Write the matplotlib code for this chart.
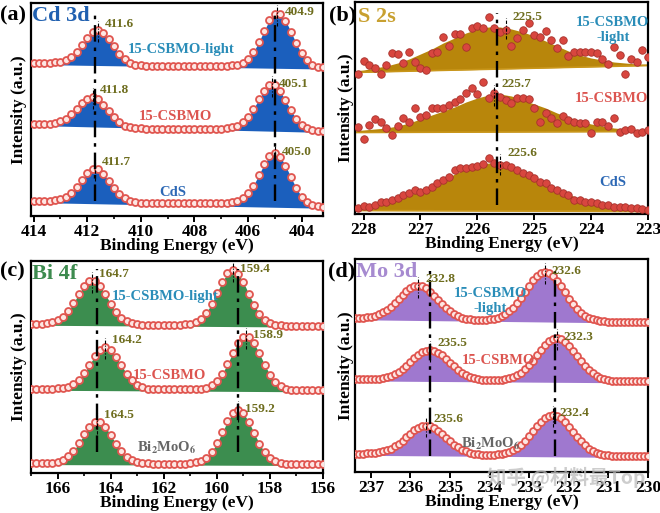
import numpy as np
import matplotlib

matplotlib.use("Agg")
import matplotlib.pyplot as plt
from matplotlib.ticker import MultipleLocator, FormatStrFormatter

plt.rcParams["font.family"] = ["Liberation Serif", "DejaVu Serif"]
plt.rcParams["font.weight"] = "bold"
plt.rcParams["mathtext.fontset"] = "stix"
plt.rcParams["axes.linewidth"] = 1.6

# ---------------- (a) Cd 3d : 414.0 -> 403.2 eV, 0.2 eV step
CD_ENERGY = np.linspace(414.0, 403.2, 55)
CD_CDS = [6, 6, 6.1, 6.3, 6.8, 8.0, 10.4, 14.5, 20.4, 27.3, 33.8, 38.0, 37.8, 33.2, 26.5,
          19.2, 13.0, 8.6, 6.0, 4.8, 4.3, 4.1,
          4, 4, 4, 4, 4, 4, 4, 4, 4, 4, 4, 4, 4, 4,
          4.3, 4.8, 6.1, 8.9, 13.8, 21.5, 31.8, 42.7, 51.0, 54.0, 50.4, 41.3, 29.8, 18.9,
          10.4, 4.9, 2.1, 0.8, 0.3]
CD_CSBMO = [7, 7, 7.2, 7.4, 8.2, 9.7, 12.2, 16.5, 22.0, 27.8, 32.3, 33.8, 31.6, 26.3, 19.7,
            13.5, 8.5, 5.2, 3.7, 2.9, 2.6,
            2.5, 2.5, 2.5, 2.5, 2.5, 2.5, 2.5, 2.5, 2.5, 2.5, 2.5, 2.5, 2.5, 2.5, 2.5,
            2.9, 3.6, 5.3, 8.5, 14.0, 22.0, 31.5, 40.3, 45.7, 45.5, 39.8, 30.6, 20.7, 12.3,
            6.4, 2.8, 1.1, 0.4, 0.1]
CD_LIGHT = [5, 5, 5, 5.2, 5.5, 6.4, 8.2, 11.4, 16.4, 23.1, 30.1, 35.7, 37.5, 35.2, 29.1,
            21.6, 14.4, 8.9, 5.2, 3.4, 2.5, 2.2,
            2, 2, 2, 2, 2, 2, 2, 2, 2, 2, 2, 2, 2, 2,
            2.2, 2.5, 3.4, 5.3, 9.3, 16.0, 25.7, 37.2, 47.9, 54.2, 54.0, 47.4, 36.4, 24.6,
            14.6, 7.6, 3.3, 1.4, 0.5]
CD_OFFSETS = [9, 85, 148]
CD_PEAKS = [[411.7, 405.0], [411.8, 405.1], [411.6, 404.9]]
CD_TEXTS = [["411.7", "405.0"], ["411.8", "405.1"], ["411.6", "404.9"]]
CD_REF = [411.7, 405.0]

# ---------------- (b) S 2s : points 228.1 -> 223.0 eV, fits 228.2 -> 223.0 eV
S_ENERGY = np.linspace(228.1, 223.0, 52)
S_CDS = [4, 6, 5, 7, 10, 10, 12, 14, 17, 19, 22, 20, 22, 25, 29, 32, 35, 42, 44, 44,
         45, 46, 48, 54, 49, 47, 47, 45, 42, 39, 37, 34, 30, 29, 24, 22, 19, 17, 12, 12,
         10, 10, 9, 7, 7, 5, 5, 5, 4, 4, 3, 2]
S_CSBMO = [5, -7, 7, 13, 10, 4, -3, 6, 14, 10, 24, 15, 17, 24, 24, 24, 27, 30, 33, 39,
           44, 38, 50, 34, 39, 35, 32, 29, 34, 34, 33, 24, 10, 19, 14, 9, 16, 12, 10, 9,
           9, -1, 10, 10, 6, 14, 0, 2, 3, -1, 0, 2]
S_LIGHT = [-2, 11, 7, 4, -2, 7, 19, 18, 9, 20, 10, 4, 2, 19, 20, 35, 26, 38, 38, 25,
           44, 46, 44, 55, 44, 40, 42, 26, 34, 42, 49, 37, 35, 41, 32, 24, 32, 16, 20, 20,
           20, 20, 19, 13, 8, 25, 17, -2, 13, 10, 22, 15]
S_FIT_ENERGY = np.linspace(228.2, 223.0, 27)
S_CDS_FIT = [3, 5, 7, 10, 13, 17, 21, 25, 31, 38, 43, 46, 49, 48, 45, 40, 34, 28, 23, 18,
             13, 10, 7, 5, 4, 3, 2]
S_CSBMO_FIT = [1, 2, 3, 4, 6, 9, 13, 17, 21, 25, 30, 34, 37, 38, 36, 32, 28, 24, 19, 15,
               11, 8, 6, 4, 3, 2, 2]
S_LIGHT_FIT = [1, 2, 4, 6, 9, 13, 18, 23, 29, 34, 39, 43, 45, 45, 43, 40, 36, 31, 26, 21,
               17, 14, 12, 10, 9, 8, 8]
S_OFFSETS = [0, 80, 140]
S_PEAKS = [225.6, 225.7, 225.5]
S_TEXTS = ["225.6", "225.7", "225.5"]
S_REF = [225.65]

# ---------------- (c) Bi 4f : 167.0 -> 156.0 eV, 0.2 eV step
BI_ENERGY = np.linspace(167.0, 156.0, 56)
BI_BMO = [1, 1, 1, 1.2, 1.5, 2.4, 4.2, 7.6, 13.2, 20.9, 29.7, 37.5, 42.2, 42.1, 37.2,
          29.2, 20.4, 12.7, 7.1, 3.7, 1.9, 1.0, 0.7,
          0.5, 0.5, 0.5, 0.5, 0.5, 0.5, 0.5,
          0.9, 1.6, 3.2, 6.5, 12.3, 20.9, 31.7, 42.8, 51.3, 54.4, 51.1, 42.6, 31.4, 20.5,
          11.8, 6.0, 2.7, 1.1, 0.4, 0.1,
          0, 0, 0, 0, 0, 0]
BI_CSBMO = [1.7, 1.7, 1.7, 1.7, 1.7, 2.0, 2.5, 3.8, 6.4, 10.9, 17.5, 25.9, 34.4, 40.9,
            43.3, 40.7, 34.0, 25.3, 16.8, 10.2, 5.7, 3.1, 1.8, 1.3,
            1, 1, 1, 1, 1, 1, 1,
            1.2, 1.6, 2.8, 5.1, 9.5, 16.7, 26.5, 37.7, 47.8, 53.8, 53.7, 47.5, 37.2, 25.8,
            15.8, 8.5, 4.1, 1.8, 0.6, 0.2,
            0, 0, 0, 0, 0]
BI_LIGHT = [2, 2, 2.2, 2.5, 3.5, 5.3, 9.0, 14.8, 22.9, 32.0, 40.2, 45.0, 44.8, 39.8, 31.4,
            22.1, 13.9, 8.0, 4.3, 2.5, 1.5, 1.2,
            1, 1, 1, 1, 1, 1, 1,
            1.4, 2.1, 3.8, 7.1, 13.0, 21.7, 32.8, 44.1, 52.7, 55.8, 52.4, 43.6, 32.2, 21.0,
            12.2, 6.2, 2.8, 1.1, 0.4, 0.1,
            0, 0, 0, 0, 0, 0, 0]
BI_OFFSETS = [9, 83, 148]
BI_PEAKS = [[164.5, 159.2], [164.2, 158.9], [164.7, 159.4]]
BI_TEXTS = [["164.5", "159.2"], ["164.2", "158.9"], ["164.7", "159.4"]]
BI_REF = [164.5, 159.2]

# ---------------- (d) Mo 3d : 237.4 -> 230.0 eV, 0.1 eV step
MO_ENERGY = np.linspace(237.4, 230.0, 75)
MO_BMO = [2.3, 2.3, 2.5, 2.6, 2.8, 3.1, 3.7, 4.6, 5.9, 7.5, 9.8, 12.5, 15.6, 19.2, 22.6,
          25.9, 28.5, 30.1, 30.7, 30.0, 28.2, 25.5, 22.1, 18.5, 14.9, 11.6, 8.8, 6.4, 4.6,
          3.3, 2.4, 1.8, 1.5, 1.4, 1.35, 1.4, 1.7, 2.2, 3.0, 4.2, 6.0, 8.5, 11.6, 15.6,
          20.1, 25.1, 30.0, 34.6, 38.3, 40.7, 41.5, 40.6, 38.1, 34.3, 29.6, 24.6, 19.5,
          14.9, 10.8, 7.6, 5.0, 3.2, 2.0, 1.2, 0.7, 0.4, 0.2,
          0, 0, 0, 0, 0, 0, 0, 0]
MO_CSBMO = [2.0, 2.0, 2.0, 2.2, 2.3, 2.5, 2.9, 3.5, 4.4, 5.7, 7.4, 9.7, 12.5, 15.9, 19.5,
            23.2, 26.4, 29.2, 30.9, 31.5, 30.8, 29.0, 26.1, 22.8, 19.0, 15.3, 11.8, 8.9,
            6.5, 4.7, 3.4, 2.5, 1.9, 1.5, 1.4, 1.4, 1.4, 1.7, 2.2, 3.1, 4.4, 6.3, 8.9, 12.1,
            16.3, 21.0, 26.3, 31.4, 36.3, 40.2, 42.7, 43.5, 42.6, 40.0, 36.0, 31.0, 25.8,
            20.4, 15.6, 11.3, 8.0, 5.3, 3.4, 2.1, 1.2, 0.7, 0.4, 0.2,
            0, 0, 0, 0, 0, 0, 0]
MO_LIGHT = [3.5, 3.6, 3.8, 4.3, 5.0, 6.0, 7.4, 9.3, 11.9, 15.1, 18.9, 22.9, 27.0, 30.8,
            33.8, 35.7, 36.3, 35.5, 33.5, 30.3, 26.3, 22.0, 17.8, 13.9, 10.5, 7.8, 5.7, 4.2,
            3.2, 2.5, 2.0, 1.9, 1.9, 1.9, 2.3, 2.9, 3.9, 5.4, 7.5, 10.4, 14.2, 18.8, 24.2,
            30.1, 36.1, 41.6, 46.0, 48.8, 49.8, 48.7, 45.7, 41.1, 35.5, 29.4, 23.3, 17.7,
            13.0, 9.1, 6.0, 3.9, 2.4, 1.4, 0.8, 0.4, 0.2,
            0, 0, 0, 0, 0, 0, 0, 0, 0, 0]
MO_OFFSETS = [16, 91, 151]
MO_PEAKS = [[235.6, 232.4], [235.5, 232.3], [235.8, 232.6]]
MO_TEXTS = [["235.6", "232.4"], ["235.5", "232.3"], ["232.8", "232.6"]]
MO_REF = [235.5, 232.35]

# sample names (bottom, middle, top)
NAMES_CD = ["CdS", "15-CSBMO", "15-CSBMO-light"]
NAMES_S = ["CdS", "15-CSBMO", "15-CSBMO\n-light"]
NAMES_BI = ["Bi$_2$MoO$_6$", "15-CSBMO", "15-CSBMO-light"]
NAMES_MO = ["Bi$_2$MoO$_6$", "15-CSBMO", "15-CSBMO\n-light"]

OLIVE = "#6e6d1e"
NAME_COLORS_CDS = ["#2c68b5", "#dc5550", "#2a8db8"]
NAME_COLORS_BMO = ["#666666", "#dc5550", "#2a8db8"]
DASHDOT = (0, (7, 2.5, 1.5, 2.5))


def style_axis(ax, xlim, ylim, minor, ylabel_x):
    ax.set_xlim(*xlim)
    ax.set_ylim(*ylim)
    ax.xaxis.set_major_locator(MultipleLocator(1 if minor is None else 2))
    ax.xaxis.set_major_formatter(FormatStrFormatter("%d"))
    if minor:
        ax.xaxis.set_minor_locator(MultipleLocator(minor))
    ax.set_yticks([])
    ax.tick_params(axis="x", which="major", direction="out", length=4, width=1.4,
                   labelsize=12.5, pad=1.5)
    ax.tick_params(axis="x", which="minor", direction="out", length=2.5, width=1.2)
    ax.set_xlabel("Binding Energy (eV)", fontsize=12.5, fontweight="bold", labelpad=-1)
    ax.set_ylabel("Intensity (a.u.)", fontsize=12.5, fontweight="bold")
    ax.yaxis.set_label_coords(ylabel_x, 0.5)


def peak_label(ax, energy, ys, pos, text, dy):
    near = np.abs(energy - pos) <= 0.45
    top = np.max(ys[near])
    ax.plot([pos, pos], [top - 12, top + 9], color="k", lw=0.8, ls=(0, (3, 1.5, 1, 1.5)),
            zorder=6)
    ax.annotate(text, (pos, top), xytext=(5, dy), textcoords="offset points", ha="left",
                va="center", fontsize=9.5, color=OLIVE, fontweight="bold", zorder=8)


def ring_panel(ax, energy, curves, offsets, peaks, texts, fill_color):
    for ys, off, pk, tx in zip(curves, offsets, peaks, texts):
        y = np.asarray(ys, dtype=float) + off
        base = np.linspace(y[0], y[-1], len(y)) - 1.5
        ax.fill_between(energy, y, base, color=fill_color, lw=0, zorder=2)
        ax.plot(energy, y, "o", ms=5.0, mfc="#fde6e3", mec="#e0554f", mew=1.3, ls="none",
                zorder=4)
        for p, t, dy in zip(pk, tx, (5, 1)):
            peak_label(ax, energy, y, p, t, dy)


def ref_lines(ax, refs, y0, y1):
    for r in refs:
        ax.plot([r, r], [y0, y1], color="k", lw=1.7, ls=DASHDOT, zorder=7)


def names(ax, labels, positions, colors):
    for lab, (x, y), c in zip(labels, positions, colors):
        ax.text(x, y, lab, ha="center", va="center", fontsize=10.5, color=c,
                fontweight="bold", linespacing=1.25, zorder=9)


fig = plt.figure(figsize=(6.6, 5.13), dpi=100)
ax_a = fig.add_axes([31 / 660, 1 - 216 / 513, 292 / 660, 213 / 513])
ax_b = fig.add_axes([355 / 660, 1 - 214 / 513, 293 / 660, 212 / 513])
ax_c = fig.add_axes([31 / 660, 1 - 473 / 513, 292 / 660, 212 / 513])
ax_d = fig.add_axes([355 / 660, 1 - 472 / 513, 293 / 660, 213 / 513])

# (a)
ring_panel(ax_a, CD_ENERGY, [CD_CDS, CD_CSBMO, CD_LIGHT], CD_OFFSETS, CD_PEAKS, CD_TEXTS,
           "#1b5fbd")
ref_lines(ax_a, CD_REF, 15, 205)
names(ax_a, NAMES_CD, [(408.8, 24), (408.7, 100), (408.5, 167)], NAME_COLORS_CDS)
style_axis(ax_a, (414.1, 403.2), (0, 213), 1, -0.014)
ax_a.text(0.005, 0.94, "Cd 3d", transform=ax_a.transAxes, fontsize=16, color="#2060b0",
          va="center", ha="left", fontweight="bold")

# (b)
for pts, fit, off, pos, txt in zip([S_CDS, S_CSBMO, S_LIGHT],
                                   [S_CDS_FIT, S_CSBMO_FIT, S_LIGHT_FIT],
                                   S_OFFSETS, S_PEAKS, S_TEXTS):
    yf = np.asarray(fit, dtype=float) + off
    base = np.linspace(yf[0], yf[-1], len(yf)) - 1.5
    ax_b.fill_between(S_FIT_ENERGY, yf, base, color="#b8860b", lw=0, zorder=2)
    ax_b.plot(S_FIT_ENERGY, base, color="#c9961a", lw=1.2, zorder=2)
    ax_b.plot(S_ENERGY, np.asarray(pts, dtype=float) + off, "o", ms=5.4, mfc="#d8463f",
              mec="#a8322c", mew=0.6, ls="none", zorder=4)
    peak_label(ax_b, S_FIT_ENERGY, yf, pos, txt, 7)
ref_lines(ax_b, S_REF, 7, 199)
names(ax_b, NAMES_S, [(223.62, 30), (223.65, 114), (223.62, 182)], NAME_COLORS_CDS)
style_axis(ax_b, (228.15, 223.0), (-2, 210), None, -0.004)
ax_b.text(0.01, 0.93, "S 2s", transform=ax_b.transAxes, fontsize=16, color="#c8a030",
          va="center", ha="left", fontweight="bold")

# (c)
ring_panel(ax_c, BI_ENERGY, [BI_BMO, BI_CSBMO, BI_LIGHT], BI_OFFSETS, BI_PEAKS, BI_TEXTS,
           "#3c8d4f")
ref_lines(ax_c, BI_REF, 21, 205)
names(ax_c, NAMES_BI, [(161.9, 25), (161.8, 98), (161.94, 177)], NAME_COLORS_BMO)
style_axis(ax_c, (167.0, 156.0), (0, 213), 1, -0.014)
ax_c.text(0.005, 0.94, "Bi 4f", transform=ax_c.transAxes, fontsize=16, color="#3d8b4f",
          va="center", ha="left", fontweight="bold")

# (d)
ring_panel(ax_d, MO_ENERGY, [MO_BMO, MO_CSBMO, MO_LIGHT], MO_OFFSETS, MO_PEAKS, MO_TEXTS,
           "#9f78cf")
ref_lines(ax_d, MO_REF, 16, 202)
names(ax_d, NAMES_MO, [(233.98, 28), (233.77, 112), (233.98, 172)], NAME_COLORS_BMO)
style_axis(ax_d, (237.4, 230.0), (0, 214), None, -0.004)
ax_d.text(0.005, 0.94, "Mo 3d", transform=ax_d.transAxes, fontsize=16, color="#a68ad0",
          va="center", ha="left", fontweight="bold")

# panel letters
for lab, x, y in [("(a)", 0, 15), ("(b)", 329, 15), ("(c)", 0, 271), ("(d)", 328, 271)]:
    fig.text(x / 660, 1 - y / 513, lab, fontsize=16, fontweight="bold", ha="left",
             va="center")

# site watermark over the (d) tick labels
fig.text(487 / 660, 1 - 478 / 513, "知乎 @材料最Top", fontsize=14, color="#bdbdbd",
         alpha=0.75, ha="left", va="center",
         family=["Noto Sans CJK SC", "DejaVu Sans"])

fig.savefig("out.png", dpi=100)
